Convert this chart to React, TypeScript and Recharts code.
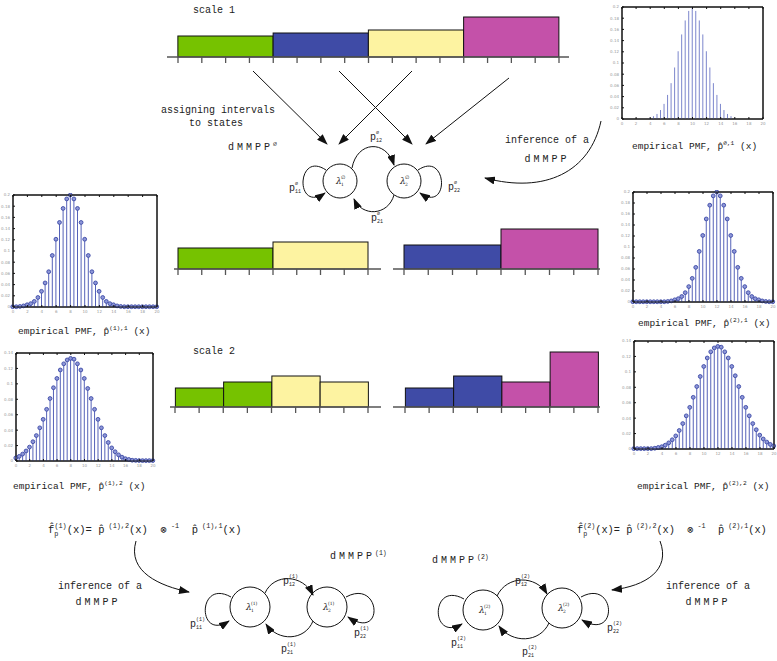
import React from 'react';
import { BarChart, Bar, XAxis, YAxis, ReferenceArea } from 'recharts';

const FONT = "'Liberation Mono', 'DejaVu Sans Mono', monospace";
const INK = '#222';

// x grid of the empirical PMFs (0..20, step 0.5)
const X = [0, 0.5, 1, 1.5, 2, 2.5, 3, 3.5, 4, 4.5, 5, 5.5, 6, 6.5, 7, 7.5, 8, 8.5, 9, 9.5, 10,
  10.5, 11, 11.5, 12, 12.5, 13, 13.5, 14, 14.5, 15, 15.5, 16, 16.5, 17, 17.5, 18, 18.5, 19, 19.5, 20];
const X_TICKS = [0, 2, 4, 6, 8, 10, 12, 14, 16, 18, 20];
const Y_TICKS_20 = [0, 0.02, 0.04, 0.06, 0.08, 0.1, 0.12, 0.14, 0.16, 0.18, 0.2];
const Y_TICKS_14 = [0, 0.02, 0.04, 0.06, 0.08, 0.1, 0.12, 0.14];

// p^{∅,1}
const P_EMPTY_1 = [0, 0, 0, 0, 0, 0, 0, 0, 0.002, 0.005, 0.009, 0.016, 0.027, 0.043, 0.064, 0.092,
  0.121, 0.151, 0.176, 0.193, 0.2, 0.193, 0.176, 0.151, 0.121, 0.092, 0.064, 0.043, 0.027, 0.016,
  0.009, 0.005, 0.002, 0, 0, 0, 0, 0, 0, 0, 0];
// p^{(1),1}
const P_1_1 = [0.0005, 0.0005, 0.001, 0.002, 0.004, 0.006, 0.01, 0.017, 0.028, 0.043, 0.063, 0.092,
  0.121, 0.151, 0.176, 0.193, 0.2, 0.193, 0.176, 0.151, 0.121, 0.092, 0.063, 0.043, 0.028, 0.017,
  0.01, 0.006, 0.004, 0.002, 0.001, 0.0005, 0.0005, 0.0005, 0.0005, 0.0005, 0.0005, 0.0005, 0.0005,
  0.0005, 0.0005];
// p^{(1),2}
const P_1_2 = [0.004, 0.006, 0.009, 0.013, 0.018, 0.025, 0.033, 0.043, 0.054, 0.067, 0.081, 0.095,
  0.107, 0.118, 0.126, 0.131, 0.133, 0.132, 0.126, 0.118, 0.107, 0.094, 0.081, 0.067, 0.054, 0.043,
  0.033, 0.024, 0.017, 0.012, 0.008, 0.005, 0.003, 0.002, 0.001, 0.0008, 0.0006, 0.0005, 0.0005,
  0.0005, 0.0005];
// p^{(2),1}
const P_2_1 = [0.0005, 0.0005, 0.0005, 0.0005, 0.0005, 0.0005, 0.0005, 0.0005, 0.0005, 0.0005, 0.001,
  0.002, 0.004, 0.006, 0.01, 0.017, 0.028, 0.043, 0.063, 0.092, 0.121, 0.151, 0.176, 0.193, 0.2,
  0.193, 0.176, 0.151, 0.121, 0.092, 0.063, 0.043, 0.028, 0.017, 0.01, 0.006, 0.004, 0.002, 0.001,
  0.0005, 0.0005];
// p^{(2),2}
const P_2_2 = [0.0005, 0.0005, 0.0005, 0.0005, 0.0005, 0.0005, 0.001, 0.002, 0.003, 0.005, 0.008,
  0.012, 0.017, 0.024, 0.033, 0.043, 0.054, 0.067, 0.081, 0.094, 0.107, 0.118, 0.126, 0.131, 0.133,
  0.132, 0.126, 0.118, 0.107, 0.095, 0.081, 0.067, 0.054, 0.043, 0.033, 0.025, 0.018, 0.013, 0.009,
  0.006, 0.004];

// interval histograms: centre of each interval (in tick units), state, height
const COLORS: Record<string, string> = { s1: '#76c200', s2: '#3f4ba6', s3: '#fdf3a1', s4: '#c451a9' };
const SCALE1_POS = [2, 6, 10, 14];
const SCALE1_STATES = ['s1', 's2', 's3', 's4'];
const SCALE1_VALUES = [21, 24, 27, 40];
const MID_POS = [2, 6];
const MID_LEFT_STATES = ['s1', 's3'];
const MID_LEFT_VALUES = [21, 27];
const MID_RIGHT_STATES = ['s2', 's4'];
const MID_RIGHT_VALUES = [24, 40];
const SCALE2_POS = [1, 3, 5, 7];
const SCALE2_LEFT_STATES = ['s1', 's1', 's3', 's3'];
const SCALE2_LEFT_VALUES = [19, 25, 31, 25];
const SCALE2_RIGHT_STATES = ['s2', 's2', 's4', 's4'];
const SCALE2_RIGHT_VALUES = [19, 31, 25, 55];
const TICKS_16 = [0, 1, 2, 3, 4, 5, 6, 7, 8, 9, 10, 11, 12, 13, 14, 15, 16];
const TICKS_8 = [0, 1, 2, 3, 4, 5, 6, 7, 8];

const rows = (ys: number[]) => X.map((x, i) => ({ x, p: ys[i] }));
const noLabel = () => '';

function StemChart({ ys, x0, y0, w, h, ymax, yTicks, markers, stem }: {
  ys: number[]; x0: number; y0: number; w: number; h: number; ymax: number;
  yTicks: number[]; markers: boolean; stem: string;
}) {
  const LW = 15;
  const BH = 8;
  const RM = 4;
  const tickStyle = { fontSize: 4, fill: '#999', fontFamily: 'DejaVu Sans' };
  const Stem = (props: any) => {
    const { x, y, width, height } = props;
    const cx = x + width / 2;
    return (
      <g>
        <line x1={cx} x2={cx} y1={y} y2={y + height} stroke={stem} strokeWidth={1} />
        {markers && <circle cx={cx} cy={y} r={1.9} fill="#8e97d8" stroke="#3c4aa6" strokeWidth={0.9} />}
      </g>
    );
  };
  return (
    <div style={{ position: 'absolute', left: x0 - LW, top: y0 - 2 }}>
      <BarChart width={LW + w + 1 + RM} height={h + BH + 2} data={rows(ys)}
        margin={{ top: 0, right: RM, bottom: 0, left: 0 }}>
        <XAxis dataKey="x" type="number" domain={[0, 20]} ticks={X_TICKS} height={BH}
          stroke="#111" tickSize={-2} tickMargin={5} tick={tickStyle} interval={0} />
        <XAxis xAxisId="top" dataKey="x" orientation="top" type="number" domain={[0, 20]}
          ticks={X_TICKS} height={2} stroke="#111" tickSize={-2} tickFormatter={noLabel} interval={0} />
        <YAxis domain={[0, ymax]} ticks={yTicks} width={LW} stroke="#111" tickSize={-2}
          tickMargin={5} tick={tickStyle} interval={0} />
        <YAxis yAxisId="r" orientation="right" domain={[0, ymax]} ticks={yTicks} width={1}
          stroke="#111" tickSize={-2} tickFormatter={noLabel} interval={0} />
        <ReferenceArea x1={0} x2={20} y1={0} y2={ymax} fill="none" stroke="#111" strokeWidth={1}
          ifOverflow="visible" />
        <Bar dataKey="p" barSize={1} shape={Stem} isAnimationActive={false} />
      </BarChart>
    </div>
  );
}

function BlockChart({ pos, states, values, left, baseline, width, padL, padR, plotH, ticks, barW }: {
  pos: number[]; states: string[]; values: number[]; left: number; baseline: number; width: number;
  padL: number; padR: number; plotH: number; ticks: number[]; barW: number;
}) {
  const data = values.map((v, i) => ({ c: pos[i], v, s: states[i] }));
  const Block = (props: any) => {
    const { x, y, width: bw, height, payload } = props;
    return (
      <rect x={x + bw / 2 - barW / 2} y={y} width={barW} height={height}
        fill={COLORS[payload.s]} stroke="#111" strokeWidth={1} />
    );
  };
  return (
    <div style={{ position: 'absolute', left, top: baseline - plotH }}>
      <BarChart width={width} height={plotH + 8} data={data}
        margin={{ top: 0, right: 0, bottom: 0, left: 0 }}>
        <XAxis dataKey="c" type="number" domain={[0, ticks[ticks.length - 1]]} ticks={ticks}
          padding={{ left: padL, right: padR }} tickFormatter={noLabel} tickSize={6} height={8}
          stroke="#555" strokeWidth={1.3} interval={0} />
        <YAxis hide domain={[0, plotH]} />
        <Bar dataKey="v" barSize={1} shape={Block} isAnimationActive={false} />
      </BarChart>
    </div>
  );
}

type Seg = { t: string; k?: 'sup' | 'sub'; dx?: number };

function Rich({ x, y, segs, size = 10, anchor = 'start', ls = 0 }: {
  x: number; y: number; segs: Seg[]; size?: number; anchor?: string; ls?: number;
}) {
  let cur = 0;
  return (
    <text x={x} y={y} fontSize={size} textAnchor={anchor} fontFamily={FONT} fill={INK}
      letterSpacing={ls} style={{ whiteSpace: 'pre' }}>
      {segs.map((s, i) => {
        const target = s.k === 'sup' ? -size * 0.45 : s.k === 'sub' ? size * 0.3 : 0;
        const dy = target - cur;
        cur = target;
        return (
          <tspan key={i} dy={dy} dx={s.dx || 0} fontSize={s.k ? size * 0.65 : size}
            letterSpacing={s.k ? 0 : ls}>{s.t}</tspan>
        );
      })}
    </text>
  );
}

function PLab({ x, y, sub, sup }: { x: number; y: number; sub: string; sup: string }) {
  return (
    <g fontFamily={FONT} fill={INK}>
      <text x={x} y={y} fontSize={10}>p</text>
      <text x={x + 6} y={y + 2} fontSize={5}>{sub}</text>
      <text x={x + 6} y={y - 6} fontSize={5}>{sup}</text>
    </g>
  );
}

function Lam({ x, y, i, sup }: { x: number; y: number; i: string; sup: string }) {
  return (
    <g fontFamily="DejaVu Serif" fill={INK}>
      <text x={x - 4} y={y + 3} fontSize={9} fontStyle="italic">λ</text>
      <text x={x + 1} y={y + 5} fontSize={4.5}>{i}</text>
      <text x={x + 1} y={y - 2} fontSize={4.5}>{sup}</text>
    </g>
  );
}

function StateDiagram({ c1, c2, r, loops, arcs }: {
  c1: [number, number]; c2: [number, number]; r: number; loops: string[]; arcs: string[];
}) {
  return (
    <g fill="none" stroke="#111" strokeWidth={1}>
      <circle cx={c1[0]} cy={c1[1]} r={r} fill="#fff" />
      <circle cx={c2[0]} cy={c2[1]} r={r} fill="#fff" />
      {[...loops, ...arcs].map((d, i) => (
        <path key={i} d={d} markerEnd="url(#ah)" />
      ))}
    </g>
  );
}

const pmfLabel = (sup: string): Seg[] => [
  { t: 'empirical PMF, p̂' }, { t: sup, k: 'sup' }, { t: ' (x)' },
];
const formula = (n: string): Seg[] => [
  { t: 'f̂' }, { t: 'p', k: 'sub' }, { t: `(${n})`, k: 'sup', dx: -4 }, { t: '(x)= p̂' },
  { t: ` (${n}),2`, k: 'sup' }, { t: '(x)  ⊗' }, { t: ' -1', k: 'sup' }, { t: '  p̂' },
  { t: ` (${n}),1`, k: 'sup' }, { t: '(x)' },
];

export default function App() {
  return (
    <div style={{ position: 'absolute', left: 0, top: 0, width: 777, height: 661, background: '#fff', overflow: 'hidden' }}>
      {/* histograms of intervals */}
      <BlockChart pos={SCALE1_POS} states={SCALE1_STATES} values={SCALE1_VALUES} left={167} baseline={57}
        width={402} padL={11} padR={10} plotH={42} ticks={TICKS_16} barW={95.25} />
      <BlockChart pos={MID_POS} states={MID_LEFT_STATES} values={MID_LEFT_VALUES} left={174} baseline={269}
        width={207} padL={4} padR={13} plotH={42} ticks={TICKS_8} barW={95} />
      <BlockChart pos={MID_POS} states={MID_RIGHT_STATES} values={MID_RIGHT_VALUES} left={393} baseline={269}
        width={207} padL={11} padR={2} plotH={42} ticks={TICKS_8} barW={97} />
      <BlockChart pos={SCALE2_POS} states={SCALE2_LEFT_STATES} values={SCALE2_LEFT_VALUES} left={170} baseline={407}
        width={211} padL={5} padR={13} plotH={56} ticks={TICKS_8} barW={48.25} />
      <BlockChart pos={SCALE2_POS} states={SCALE2_RIGHT_STATES} values={SCALE2_RIGHT_VALUES} left={393} baseline={407}
        width={207} padL={12} padR={2} plotH={56} ticks={TICKS_8} barW={48.25} />

      {/* empirical PMFs */}
      <StemChart ys={P_EMPTY_1} x0={622} y0={7} w={141} h={112} ymax={0.2} yTicks={Y_TICKS_20} markers={false} stem="#7c86cc" />
      <StemChart ys={P_1_1} x0={13} y0={195} w={144} h={112} ymax={0.2} yTicks={Y_TICKS_20} markers stem="#5562b8" />
      <StemChart ys={P_1_2} x0={16} y0={353} w={137} h={108} ymax={0.14} yTicks={Y_TICKS_14} markers stem="#5562b8" />
      <StemChart ys={P_2_1} x0={633} y0={192} w={140} h={110} ymax={0.2} yTicks={Y_TICKS_20} markers stem="#5562b8" />
      <StemChart ys={P_2_2} x0={634} y0={341} w={140} h={108} ymax={0.14} yTicks={Y_TICKS_14} markers stem="#5562b8" />

      <svg width={777} height={661} style={{ position: 'absolute', left: 0, top: 0, pointerEvents: 'none' }}>
        <defs>
          <marker id="ah" markerUnits="userSpaceOnUse" markerWidth={11} markerHeight={8} refX={10} refY={4} orient="auto">
            <path d="M0,0 L11,4 L0,8 z" fill="#111" />
          </marker>
        </defs>

        <text x={193} y={13} fontSize={10} fontFamily={FONT} fill={INK}>scale 1</text>
        <text x={193} y={354} fontSize={10} fontFamily={FONT} fill={INK}>scale 2</text>
        <text x={218} y={113} fontSize={10} fontFamily={FONT} fill={INK} textAnchor="middle">assigning intervals</text>
        <text x={216} y={126} fontSize={10} fontFamily={FONT} fill={INK} textAnchor="middle">to states</text>

        {/* assignment arrows */}
        <g stroke="#111" strokeWidth={1}>
          <line x1={253} y1={71} x2={327} y2={144} markerEnd="url(#ah)" />
          <line x1={339} y1={71} x2={412} y2={144} markerEnd="url(#ah)" />
          <line x1={412} y1={71} x2={339} y2={144} markerEnd="url(#ah)" />
          <line x1={509} y1={78} x2={426} y2={144} markerEnd="url(#ah)" />
        </g>

        {/* dMMPP ∅ */}
        <Rich x={228} y={150} ls={3} segs={[{ t: 'dMMPP' }, { t: '∅', k: 'sup' }]} />
        <StateDiagram c1={[340, 181]} c2={[404, 181]} r={17}
          loops={['M 326 170 C 296 150, 295 214, 325 193', 'M 418 170 C 448 150, 450 214, 420 193']}
          arcs={['M 352 168 C 357 141, 386 139, 394 165', 'M 394 195 C 388 216, 362 217, 354 199']} />
        <Lam x={340} y={181} i="1" sup="∅" />
        <Lam x={404} y={181} i="2" sup="∅" />
        <PLab x={370} y={140} sub="12" sup="∅" />
        <PLab x={289} y={191} sub="11" sup="∅" />
        <PLab x={448} y={190} sub="22" sup="∅" />
        <PLab x={371} y={221} sub="21" sup="∅" />

        <text x={547} y={143} fontSize={10} fontFamily={FONT} fill={INK} textAnchor="middle">inference of a</text>
        <text x={547} y={162} fontSize={10} fontFamily={FONT} fill={INK} textAnchor="middle" letterSpacing={3}>dMMPP</text>
        <path d="M 601 121 C 590 172, 545 194, 485 178" fill="none" stroke="#111" markerEnd="url(#ah)" />

        {/* PMF labels */}
        <Rich x={632} y={149} size={9.5} segs={pmfLabel('∅,1')} />
        <Rich x={18} y={334} size={9.5} segs={pmfLabel('(1),1')} />
        <Rich x={638} y={326} size={9.5} segs={pmfLabel('(2),1')} />
        <Rich x={13} y={489} size={9.5} segs={pmfLabel('(1),2')} />
        <Rich x={637} y={489} size={9.5} segs={pmfLabel('(2),2')} />

        {/* formulas */}
        <Rich x={48} y={533} size={10.5} segs={formula('1')} />
        <Rich x={577} y={533} size={10.3} segs={formula('2')} />

        {/* dMMPP (1) */}
        <path d="M 136 541 C 127 572, 160 586, 189 592" fill="none" stroke="#111" markerEnd="url(#ah)" />
        <text x={100} y={589} fontSize={10} fontFamily={FONT} fill={INK} textAnchor="middle">inference of a</text>
        <text x={98} y={605} fontSize={10} fontFamily={FONT} fill={INK} textAnchor="middle" letterSpacing={3}>dMMPP</text>
        <Rich x={330} y={559} ls={3} segs={[{ t: 'dMMPP' }, { t: '(1)', k: 'sup' }]} />
        <StateDiagram c1={[250, 607]} c2={[327, 607]} r={20}
          loops={['M 231 597 C 197 578, 197 642, 229 621', 'M 346 597 C 381 578, 385 642, 348 617']}
          arcs={['M 265 593 C 274 573, 303 574, 313 595', 'M 313 621 C 305 641, 278 642, 266 624']} />
        <Lam x={250} y={607} i="1" sup="(1)" />
        <Lam x={327} y={607} i="2" sup="(1)" />
        <PLab x={283} y={584} sub="12" sup="(1)" />
        <PLab x={190} y={627} sub="11" sup="(1)" />
        <PLab x={354} y={636} sub="22" sup="(1)" />
        <PLab x={281} y={652} sub="21" sup="(1)" />

        {/* dMMPP (2) */}
        <path d="M 660 541 C 671 570, 646 586, 612 590" fill="none" stroke="#111" markerEnd="url(#ah)" />
        <text x={708} y={589} fontSize={10} fontFamily={FONT} fill={INK} textAnchor="middle">inference of a</text>
        <text x={708} y={605} fontSize={10} fontFamily={FONT} fill={INK} textAnchor="middle" letterSpacing={3}>dMMPP</text>
        <Rich x={432} y={563} ls={3} segs={[{ t: 'dMMPP' }, { t: '(2)', k: 'sup' }]} />
        <StateDiagram c1={[483, 610]} c2={[562, 608]} r={20}
          loops={['M 464 599 C 430 580, 430 643, 462 624', 'M 581 597 C 616 578, 619 642, 582 620']}
          arcs={['M 497 596 C 507 575, 536 575, 547 594', 'M 549 623 C 540 643, 512 644, 499 626']} />
        <Lam x={483} y={610} i="1" sup="(2)" />
        <Lam x={562} y={608} i="2" sup="(2)" />
        <PLab x={515} y={584} sub="12" sup="(2)" />
        <PLab x={451} y={646} sub="11" sup="(2)" />
        <PLab x={607} y={631} sub="22" sup="(2)" />
        <PLab x={522} y={655} sub="21" sup="(2)" />
      </svg>
    </div>
  );
}
